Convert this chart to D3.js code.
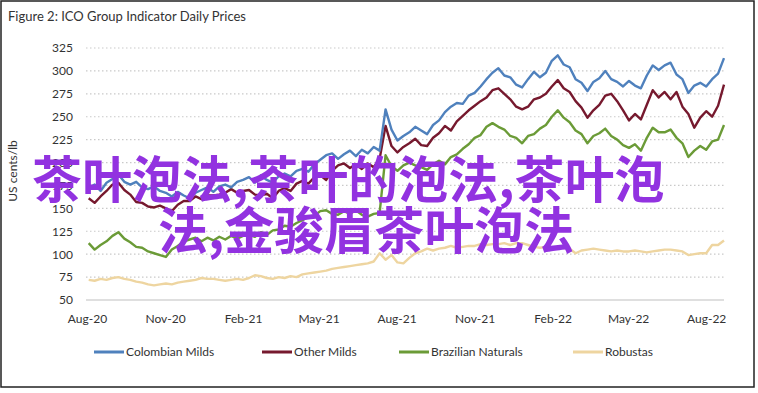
<!DOCTYPE html>
<html>
<head>
<meta charset="utf-8">
<script src="https://cdnjs.cloudflare.com/ajax/libs/d3/7.8.5/d3.min.js"></script>
<style>
    body { margin: 0; background: #fff; }
    text { font-family: Lato, "Open Sans", sans-serif; fill: #333; }
</style>
</head>
<body>
<div id="chart"></div>
<script>
//-----------------------------Data (weekly readings, US cents/lb)
var firstWeek = "2020-08-03";

var colombianMilds = [
    172, 176, 169, 178, 182, 187, 179, 176, 179, 173, 171, 174, 169,
    167, 163, 168, 164, 161, 167, 170, 173, 168, 174, 176, 173, 179,
    181, 184, 178, 186, 181, 178, 185, 188, 185, 191, 193, 190, 198,
    203, 208, 210, 204, 209, 213, 207, 214, 210, 217, 213, 258, 236,
    224, 229, 233, 239, 235, 231, 241, 246, 255, 261, 265, 264, 273,
    276, 283, 291, 298, 303, 295, 293, 285, 282, 291, 299, 293, 298,
    311, 317, 307, 304, 291, 287, 278, 288, 292, 300, 291, 288, 283,
    289, 284, 281, 295, 306, 301, 306, 309, 296, 291, 276, 284, 287, 283, 291, 297, 314
];

var otherMilds = [
    161, 156, 163, 169, 176, 178, 170, 165, 157, 156, 152, 151, 153,
    150, 147, 154, 158, 158, 163, 160, 164, 164, 165, 167, 171, 167,
    169, 170, 165, 164, 166, 161, 169, 172, 169, 177, 180, 177, 184,
    186, 181, 191, 197, 199, 194, 198, 193, 199, 195, 204, 240, 218,
    211, 217, 221, 226, 219, 218, 227, 232, 240, 235, 245, 251, 257,
    262, 267, 271, 279, 281, 275, 269, 261, 258, 261, 269, 271, 275,
    283, 290, 281, 277, 267, 260, 249, 257, 263, 273, 275, 267, 257,
    246, 253, 247, 263, 279, 271, 277, 269, 277, 261, 253, 238, 249, 256, 250, 262, 285
];

var brazilianNaturals = [
    112, 105, 110, 114, 120, 124, 117, 113, 108, 107, 103, 101, 99,
    97, 105, 109, 114, 116, 118, 114, 118, 115, 119, 116, 120, 117,
    120, 121, 119, 124, 121, 126, 127, 131, 130, 134, 137, 141, 142,
    147, 148, 144, 143, 147, 144, 148, 143, 141, 144, 145, 208, 196,
    191, 197, 200, 197, 195, 192, 198, 202, 198, 206, 209, 215, 220,
    227, 230, 239, 243, 239, 236, 229, 227, 221, 229, 231, 237, 241,
    250, 257, 249, 244, 235, 231, 221, 229, 232, 237, 229, 225, 219,
    216, 220, 213, 227, 238, 233, 233, 236, 227, 221, 206, 213, 218, 214, 223, 225, 241
];

var robustas = [
    72, 71, 73, 72, 74, 75, 73, 72, 70, 69, 67, 66, 67,
    68, 67, 69, 70, 71, 72, 74, 73, 73, 72, 71, 72, 73,
    72, 74, 77, 76, 74, 73, 75, 74, 76, 75, 78, 79, 80,
    81, 82, 84, 85, 86, 87, 88, 89, 90, 92, 101, 94, 99,
    91, 90, 96, 101, 103, 106, 104, 106, 107, 109, 107, 108, 109,
    109, 111, 110, 111, 111, 112, 110, 112, 112, 110, 108, 107, 108,
    107, 108, 107, 106, 101, 104, 105, 106, 105, 104, 103, 104, 103,
    103, 104, 103, 102, 103, 104, 105, 105, 104, 103, 99, 100, 101, 101, 110, 110, 115
];

var seriesNames = ["Colombian Milds", "Other Milds", "Brazilian Naturals", "Robustas"];
var seriesColors = ["#4f81bd", "#76192e", "#6b9b37", "#eed5a0"];
var yTicks = [50, 75, 100, 125, 150, 175, 200, 225, 250, 275, 300, 325];
var xTicks = ["2020-08-01", "2020-11-01", "2021-02-01", "2021-05-01", "2021-08-01",
    "2021-11-01", "2022-02-01", "2022-05-01", "2022-08-01"];
var xStart = "2020-08-01";
var xEnd = "2022-08-22";

var watermarkLines = ["茶叶泡法,茶叶的泡法,茶叶泡", "法,金骏眉茶叶泡法"];

//-----------------------------Chart
var w = 758;
var h = 393;
var plotLeft = 87;
var plotRight = 724;
var plotTop = 48;
var plotBottom = 300;

var parse = d3.timeParse("%Y-%m-%d");

var svg = d3.select("#chart")
    .append("svg")
    .attr("width", w)
    .attr("height", h);

// outer frame
svg.append("rect")
    .attr("x", 1)
    .attr("y", 1)
    .attr("width", 753)
    .attr("height", 386)
    .attr("fill", "#fff")
    .attr("stroke", "#222")
    .attr("stroke-width", 1.5);

svg.append("text")
    .attr("x", 8)
    .attr("y", 21)
    .attr("font-size", "13px")
    .attr("fill", "#222")
    .text("Figure 2: ICO Group Indicator Daily Prices");

var x = d3.scaleTime()
    .domain([parse(xStart), parse(xEnd)])
    .range([plotLeft, plotRight]);

var y = d3.scaleLinear()
    .domain([50, 325])
    .range([plotBottom, plotTop]);

// dotted gridlines
svg.append("g")
    .selectAll("line")
    .data(yTicks.slice(1))
    .enter()
    .append("line")
    .attr("x1", plotLeft - 1)
    .attr("x2", plotRight)
    .attr("y1", function(d) { return y(d); })
    .attr("y2", function(d) { return y(d); })
    .attr("stroke", "#c9c9c9")
    .attr("stroke-width", 1.2)
    .attr("stroke-dasharray", "1.5,2.5");

// y axis
var yAxis = svg.append("g")
    .attr("transform", "translate(" + (plotLeft - 14) + ",0)")
    .call(d3.axisLeft(y).tickValues(yTicks).tickSize(0).tickPadding(0));
yAxis.select(".domain").remove();
yAxis.selectAll("text")
    .attr("font-size", "12px")
    .attr("fill", "#333")
    .style("font-family", "Lato, sans-serif");

svg.append("text")
    .attr("transform", "translate(17,171) rotate(-90)")
    .attr("text-anchor", "middle")
    .attr("font-size", "12px")
    .text("US cents/lb");

// x axis
var xAxis = svg.append("g")
    .attr("transform", "translate(0," + plotBottom + ")")
    .call(d3.axisBottom(x)
        .tickValues(xTicks.map(parse))
        .tickFormat(d3.timeFormat("%b-%y"))
        .tickSize(0)
        .tickPadding(14));
xAxis.select(".domain")
    .attr("d", "M" + (plotLeft - 1) + ",0H" + plotRight)
    .attr("stroke", "#d4d4d4")
    .attr("stroke-width", 1.3);
xAxis.selectAll("text")
    .attr("font-size", "12px")
    .attr("fill", "#333")
    .style("font-family", "Lato, sans-serif");

// lines
var allSeries = [colombianMilds, otherMilds, brazilianNaturals, robustas];
var line = d3.line()
    .x(function(d, i) { return x(d3.timeDay.offset(parse(firstWeek), i * 7)); })
    .y(function(d) { return y(d); });

// draw back to front so blue sits on top like the original
var order = [3, 2, 1, 0];
svg.append("g")
    .selectAll("path")
    .data(order)
    .enter()
    .append("path")
    .attr("d", function(k) { return line(allSeries[k]); })
    .attr("fill", "none")
    .attr("stroke", function(k) { return seriesColors[k]; })
    .attr("stroke-width", 2.4)
    .attr("stroke-linejoin", "round");

// legend
var legendX = [94, 262, 399, 573];
var legend = svg.append("g")
    .selectAll("g")
    .data(seriesNames)
    .enter()
    .append("g")
    .attr("transform", function(d, i) { return "translate(" + legendX[i] + ",352)"; });
legend.append("line")
    .attr("x1", 0)
    .attr("x2", 30)
    .attr("stroke", function(d, i) { return seriesColors[i]; })
    .attr("stroke-width", 3);
legend.append("text")
    .attr("x", 32)
    .attr("y", 4)
    .attr("font-size", "12px")
    .text(function(d) { return d; });

// watermark overlay
svg.append("g")
    .selectAll("text")
    .data(watermarkLines)
    .enter()
    .append("text")
    .attr("x", function(d, i) { return i == 0 ? 32 : 158; })
    .attr("y", function(d, i) { return i == 0 ? 198 : 249; })
    .attr("font-size", "50px")
    .attr("font-weight", "bold")
    .style("font-family", "'Noto Sans CJK SC', sans-serif")
    .style("fill", "#9232e0")
    .text(function(d) { return d; });
</script>
</body>
</html>
